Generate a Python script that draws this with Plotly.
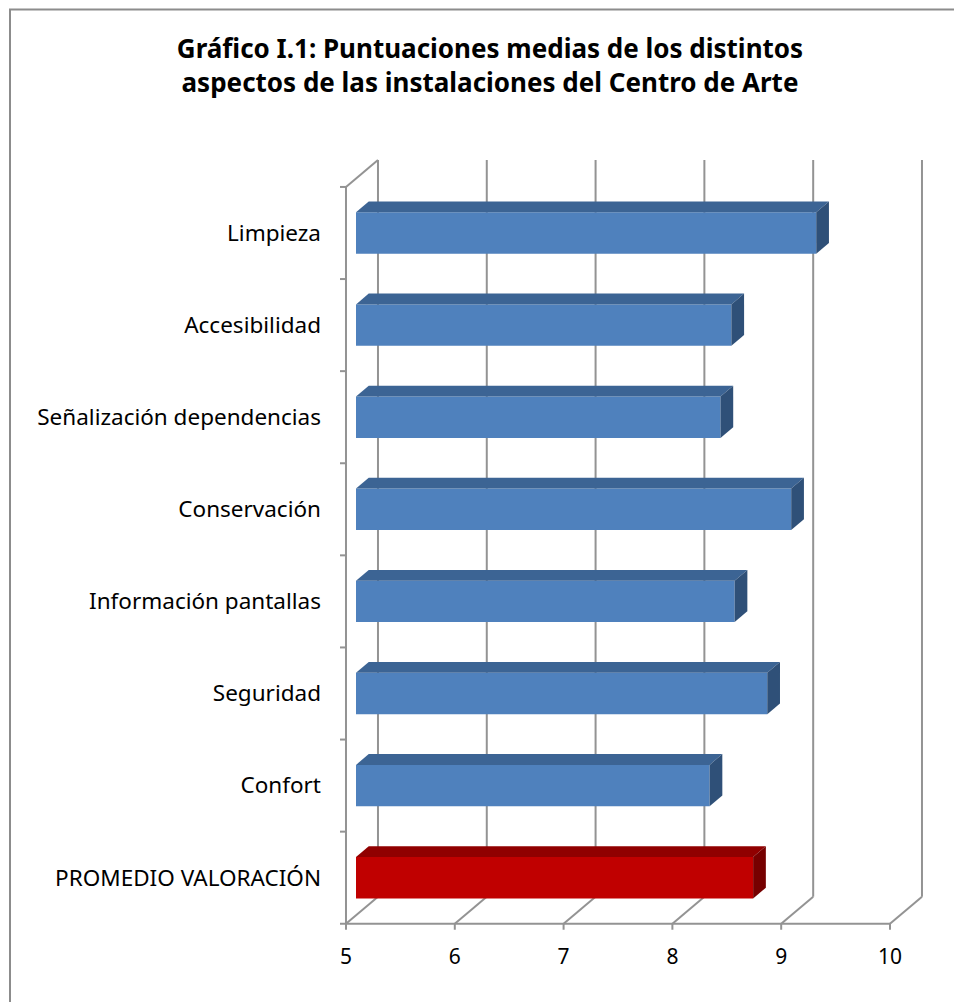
import plotly.graph_objects as go

categorias = ["Limpieza", "Accesibilidad", "Señalización dependencias", "Conservación",
              "Información pantallas", "Seguridad", "Confort", "PROMEDIO VALORACIÓN"]
puntuaciones = [9.23, 8.45, 8.35, 9.00, 8.48, 8.78, 8.25, 8.65]
ticks_x = [5, 6, 7, 8, 9, 10]
titulo = "<b>Gráfico I.1: Puntuaciones medias de los distintos<br>aspectos de las instalaciones del Centro de Arte</b>"

# estilo
AZUL = ("#4F81BD", "#3C6494", "#2F5078")
ROJO = ("#C00000", "#900000", "#760000")
GRIS = "#939393"
FONT = "Noto Sans"
ANCHO = 0.45
# desplazamientos del marco 3D (x en unidades de valor, y en categorías)
FRONT_DX = -0.092
BACK_DX, BACK_DY = 0.202, -0.293
BAR_DX, BAR_DY = 0.117, -0.117

n = len(categorias)
idx = list(range(n))
colores = [ROJO if c.startswith("PROMEDIO") else AZUL for c in categorias]
xmin, xmax = ticks_x[0], ticks_x[-1]

fig = go.Figure()
fig.add_trace(go.Bar(
    y=idx, x=[v - xmin for v in puntuaciones], base=xmin, orientation="h",
    width=ANCHO, marker=dict(color=[c[0] for c in colores], line=dict(width=0)),
    customdata=puntuaciones, hovertemplate="%{text}: %{customdata:.2f}<extra></extra>",
    text=categorias, textposition="none",
))
# eje invisible para las etiquetas del plano frontal
fig.add_trace(go.Scatter(x=ticks_x, y=[0] * len(ticks_x), xaxis="x2", mode="markers",
                         marker=dict(opacity=0), hoverinfo="skip", showlegend=False))

shapes = []
line = dict(color=GRIS, width=2)
lo, hi = -0.5, n - 0.5
# pared del fondo y suelo
for v in ticks_x:
    shapes.append(dict(type="line", x0=v + BACK_DX, x1=v + BACK_DX,
                       y0=lo + BACK_DY, y1=hi + BACK_DY, line=line, layer="below"))
    shapes.append(dict(type="line", x0=v + FRONT_DX, x1=v + BACK_DX,
                       y0=hi, y1=hi + BACK_DY, line=line, layer="below"))
    shapes.append(dict(type="line", x0=v + FRONT_DX, x1=v + FRONT_DX,
                       y0=hi, y1=hi + 0.065, line=line, layer="below"))
# eje frontal
shapes.append(dict(type="line", x0=xmin + FRONT_DX, x1=xmax + FRONT_DX, y0=hi, y1=hi, line=line, layer="below"))
shapes.append(dict(type="line", x0=xmin + FRONT_DX, x1=xmin + FRONT_DX, y0=lo, y1=hi, line=line, layer="below"))
shapes.append(dict(type="line", x0=xmin + FRONT_DX, x1=xmin + BACK_DX, y0=lo, y1=lo + BACK_DY, line=line, layer="below"))
for k in range(n + 1):
    b = lo + k
    shapes.append(dict(type="line", x0=xmin + FRONT_DX - 0.055, x1=xmin + FRONT_DX,
                       y0=b, y1=b, line=line, layer="below"))

# caras superior y lateral de las barras
for i, v, c in zip(idx, puntuaciones, colores):
    t, b = i - ANCHO / 2, i + ANCHO / 2
    top = (f"M{xmin},{t} L{v},{t} L{v + BAR_DX},{t + BAR_DY} "
           f"L{xmin + BAR_DX},{t + BAR_DY} Z")
    side = (f"M{v},{t} L{v},{b} L{v + BAR_DX},{b + BAR_DY} "
            f"L{v + BAR_DX},{t + BAR_DY} Z")
    shapes.append(dict(type="path", path=top, fillcolor=c[1], line=dict(width=0), layer="above"))
    shapes.append(dict(type="path", path=side, fillcolor=c[2], line=dict(width=0), layer="above"))

# geometría en px de la página (el body añade 8 px de margen)
OFF = 8
W, H = 962 - OFF, 1002 - OFF
L, R, T, B = 340, 932, 150, 930
K, KY = 108.8, 92.1
PW, PH = R - L, B - T

# marco exterior
shapes.append(dict(type="rect", xref="paper", yref="paper",
                   x0=(10 - L) / PW, x1=(990 - L) / PW,
                   y0=(B - 1040) / PH, y1=(B - OFF - 1.5) / PH,
                   line=dict(color="#8C8C8C", width=2)))

fig.update_layout(
    width=W, height=H,
    margin=dict(l=L - OFF, r=W - (R - OFF), t=T - OFF, b=H - (B - OFF)),
    paper_bgcolor="white", plot_bgcolor="white",
    showlegend=False,
    title=dict(text=titulo, x=(490 - OFF) / W, xanchor="center",
               y=1 - (58 - OFF) / H, yanchor="top",
               font=dict(family=FONT, size=26, color="black")),
    xaxis=dict(range=[xmin - (356 - L) / K, xmin + (R - 356) / K], showgrid=False,
               zeroline=False, showticklabels=False, showline=False, fixedrange=True),
    xaxis2=dict(overlaying="x", anchor="y", side="bottom",
                range=[xmin - (346 - L) / K, xmin + (R - 346) / K],
                tickvals=ticks_x, showgrid=False, zeroline=False, showline=False,
                ticklabelstandoff=12,
                tickfont=dict(family=FONT, size=21, color="black")),
    yaxis=dict(range=[(B - 233) / KY, (T - 233) / KY], tickvals=idx, ticktext=categorias,
               showgrid=False, zeroline=False, showline=False, ticklabelstandoff=18,
               tickfont=dict(family=FONT, size=22.5, color="black")),
    shapes=shapes,
)

fig.write_html("out.html")
